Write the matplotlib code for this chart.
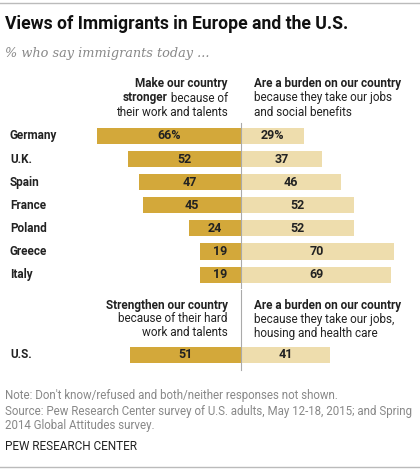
import matplotlib.pyplot as plt

# chart data
countries = ["Germany", "U.K.", "Spain", "France", "Poland", "Greece", "Italy"]
stronger = [66, 52, 47, 45, 24, 19, 19]
burden = [29, 37, 46, 52, 52, 70, 69]
us_label = "U.S."
us_stronger = 51
us_burden = 41

DARK = "#D3A83A"
LIGHT = "#EEDDAD"
W, H = 420, 474
CENTER_PX = 241
PX_PER_UNIT = 2.18
ROW0_PX = 136
ROW_PX = 23.1
FONT = "Roboto"
INK = "#222222"


def fx(px):
    return px / W


def fy(py):
    return 1 - py / H


fig = plt.figure(figsize=(W / 100, H / 100), dpi=100)
ax = fig.add_axes([0, 0, 1, 1])
ax.set_xlim(-CENTER_PX / PX_PER_UNIT, (W - CENTER_PX) / PX_PER_UNIT)
ax.set_ylim((H - ROW0_PX) / ROW_PX, -ROW0_PX / ROW_PX)
ax.axis("off")

rows = list(range(len(countries)))
us_row = 9.48
bar_h = 0.7
label_x = -CENTER_PX / PX_PER_UNIT + 10 / PX_PER_UNIT

ax.barh(rows, [-v for v in stronger], height=bar_h, color=DARK)
ax.barh(rows, burden, height=bar_h, color=LIGHT)
ax.barh([us_row], [-us_stronger], height=bar_h, color=DARK)
ax.barh([us_row], [us_burden], height=bar_h, color=LIGHT)

for i, (c, s, b) in enumerate(zip(countries, stronger, burden)):
    sfx = "%" if i == 0 else ""
    ax.text(-s / 2, i, f"{s}{sfx}", ha="center", va="center",
            fontsize=9, fontweight="bold", family=FONT, color=INK)
    ax.text(b / 2, i, f"{b}{sfx}", ha="center", va="center",
            fontsize=9, fontweight="bold", family=FONT, color=INK)
    ax.text(label_x, i, c, ha="left", va="center", fontsize=8.5,
            fontweight="bold", family=FONT, color=INK)
ax.text(-us_stronger / 2, us_row, str(us_stronger), ha="center", va="center",
        fontsize=9, fontweight="bold", family=FONT, color=INK)
ax.text(us_burden / 2, us_row, str(us_burden), ha="center", va="center",
        fontsize=9, fontweight="bold", family=FONT, color=INK)
ax.text(label_x, us_row, us_label, ha="left", va="center", fontsize=8.5,
        fontweight="bold", family=FONT, color=INK)

# center divider lines
ax.plot([0, 0], [-0.55, 6.6], color="#AAAAAA", lw=0.8)
ax.plot([0, 0], [(290 - ROW0_PX) / ROW_PX, (370 - ROW0_PX) / ROW_PX],
        color="#AAAAAA", lw=0.8)

# top and bottom rules
fig.add_artist(plt.Line2D([0, 1], [fy(3), fy(3)], color="#BBBBBB", lw=1))
fig.add_artist(plt.Line2D([0, 1], [fy(467), fy(467)], color="#BBBBBB", lw=1))

fig.text(fx(5), fy(24), "Views of Immigrants in Europe and the U.S.",
         fontsize=12.7, fontweight="bold", family=FONT, va="center",
         color="#111111")
fig.text(fx(5), fy(53), "% who say immigrants today ...", fontsize=9.3,
         style="italic", family="DejaVu Serif", color="#888888", va="center")

hs = 8.5
# left header 1
fig.text(fx(228), fy(84), "Make our country", ha="right", va="center",
         fontsize=hs, fontweight="bold", family=FONT, color=INK)
tail = fig.text(fx(228), fy(98), " because of", ha="right", va="center",
                fontsize=hs, family=FONT, color=INK)
fig.canvas.draw()
tail_left = tail.get_window_extent().x0 / W
fig.text(tail_left, fy(98), "stronger", ha="right", va="center",
         fontsize=hs, fontweight="bold", family=FONT, color=INK)
fig.text(fx(228), fy(112), "their work and talents", ha="right", va="center",
         fontsize=hs, family=FONT, color=INK)
# right header 1
fig.text(fx(254), fy(84), "Are a burden on our country", ha="left",
         va="center", fontsize=hs, fontweight="bold", family=FONT, color=INK)
fig.text(fx(254), fy(98), "because they take our jobs", ha="left",
         va="center", fontsize=hs, family=FONT, color=INK)
fig.text(fx(254), fy(112), "and social benefits", ha="left", va="center",
         fontsize=hs, family=FONT, color=INK)
# left header 2
fig.text(fx(228), fy(305), "Strengthen our country", ha="right", va="center",
         fontsize=hs, fontweight="bold", family=FONT, color=INK)
fig.text(fx(228), fy(319), "because of their hard", ha="right", va="center",
         fontsize=hs, family=FONT, color=INK)
fig.text(fx(228), fy(333), "work and talents", ha="right", va="center",
         fontsize=hs, family=FONT, color=INK)
# right header 2
fig.text(fx(254), fy(305), "Are a burden on our country", ha="left",
         va="center", fontsize=hs, fontweight="bold", family=FONT, color=INK)
fig.text(fx(254), fy(319), "because they take our jobs,", ha="left",
         va="center", fontsize=hs, family=FONT, color=INK)
fig.text(fx(254), fy(333), "housing and health care", ha="left", va="center",
         fontsize=hs, family=FONT, color=INK)

notes = [
    "Note: Don't know/refused and both/neither responses not shown.",
    "Source: Pew Research Center survey of U.S. adults, May 12-18, 2015; and Spring",
    "2014 Global Attitudes survey.",
]
for k, line in enumerate(notes):
    fig.text(fx(5), fy(396 + 15 * k), line, fontsize=8.3, family=FONT,
             color="#888888", va="center")
fig.text(fx(5), fy(447), "PEW RESEARCH CENTER", fontsize=8.5, family=FONT,
         color=INK, va="center")

fig.savefig("out.png", dpi=100)
